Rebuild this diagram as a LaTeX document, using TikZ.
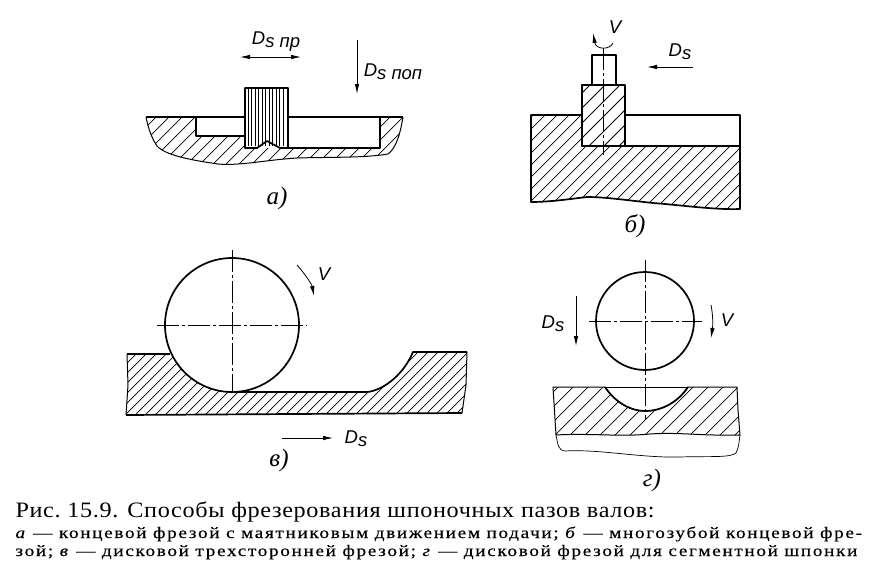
\documentclass[tikz,border=0pt]{standalone}
\usepackage{fontspec}
\setmainfont{Liberation Serif}
\newfontfamily\drawfont{Liberation Sans}
\usetikzlibrary{calc, positioning, arrows.meta}

\newcommand{\worka}{(146,117) -- (196,117) -- (196,136) -- (245,136) -- (245,148) -- (288,148) -- (380,148) -- (380,117) -- (403,117) .. controls (400,135) and (396,148) .. (388,154) .. controls (365,158) and (330,157) .. (297,158) .. controls (265,160) and (240,166) .. (218,164) .. controls (190,160) and (165,155) .. (157,146) .. controls (151,137) and (148,127) .. (146,117) -- cycle}
\newcommand{\workb}{(531,115) -- (582,115) -- (582,146) -- (740,146) -- (740,209) .. controls (715,210) and (680,205) .. (653,203) .. controls (625,200) and (605,197) .. (587,197) .. controls (570,199) and (550,202) .. (531,202) -- cycle}
\newcommand{\workc}{(127,354) -- (170,354) -- (232,392) -- (367,392) .. controls (380,391) and (402,378) .. (413,352) -- (467,352) -- (466,385) -- (462,413) -- (126,415) -- (128,385) -- cycle}
\newcommand{\workd}{(553,387) -- (605,387) .. controls (615,402) and (630,411) .. (645,411) .. controls (662,411) and (678,402) .. (688,387) -- (737,387) -- (738,410) -- (740,435) .. controls (700,436) and (680,432) .. (650,434) .. controls (620,437) and (590,433) .. (556,435) -- cycle}

\tikzset{
  outline/.style={line width=1.7pt, line join=round},
  thinoutline/.style={line width=1pt, line join=round},
  hatchline/.style={line width=0.7pt},
  axisline/.style={line width=0.7pt, dash pattern=on 22pt off 3pt on 3pt off 3pt},
  feedarrow/.style={line width=0.8pt, -{Latex[length=10pt,width=4.5pt]}},
  drawlabel/.style={font=\drawfont\itshape\fontsize{18.5}{18}\selectfont},
  partlabel/.style={font=\itshape\fontsize{25}{25}\selectfont},
  capbig/.style={anchor=base west, font=\addfontfeatures{FakeStretch=1.1,LetterSpace=3}\fontsize{22}{22}\selectfont},
  capsmall/.style={anchor=base west, font=\addfontfeatures{FakeStretch=1.2,LetterSpace=10.5,FakeBold=0.3}\fontsize{16}{16}\selectfont}
}

\newcommand{\hatchfill}[2]{%
  \begin{scope}
    \clip #1;
    \foreach \hx in {0,#2,...,1400}
      \draw [hatchline] (\hx,0) -- ++(-700,700);
  \end{scope}}

\begin{document}
\begin{tikzpicture}[x=1pt, y=-1pt]
  \useasboundingbox (0,0) rectangle (881,568);

  \hatchfill{\worka}{13}
  \draw [outline] (146,117) -- (196,117) -- (196,136) -- (245,136);
  \draw [outline] (288,148) -- (380,148) -- (380,117) -- (403,117);
  \draw [thinoutline] (403,117) .. controls (400,135) and (396,148) .. (388,154) .. controls (365,158) and (330,157) .. (297,158) .. controls (265,160) and (240,166) .. (218,164) .. controls (190,160) and (165,155) .. (157,146) .. controls (151,137) and (148,127) .. (146,117);
  \draw [outline] (196,117) -- (245,117);
  \draw [outline] (288,117) -- (380,117);
  \draw [fill=white, outline] (245,88) -- (288,88) -- (288,148) -- (280,148) -- (267,141) -- (257,148) -- (245,148) -- cycle;
  \foreach \hx in {248,251.5,...,286}
    \draw [hatchline] (\hx,89) -- (\hx,146);
  \draw [line width=0.8pt, {Latex[length=10pt,width=4.5pt]}-{Latex[length=10pt,width=4.5pt]}] (240,57) -- (301,57);
  \draw [feedarrow] (357,40) -- (357,94);
  \node at (276,42) [drawlabel] {D\raisebox{-3pt}{s пр}};
  \node at (393,72) [drawlabel] {D\raisebox{-3pt}{s пoп}};
  \node at (277,198) [partlabel] {а)};

  \hatchfill{\workb}{12}
  \draw [outline] \workb;
  \draw [outline] (625,115) -- (740,115) -- (740,146);
  \draw [outline] (592,85) -- (592,55) -- (616,55) -- (616,85);
  \draw [fill=white, outline] (582,85) rectangle (625,146);
  \begin{scope}
    \clip (582,85) rectangle (625,146);
    \foreach \hx in {575,590,...,700}
      \draw [line width=0.8pt] (\hx,85) -- ++(-80,80);
  \end{scope}
  \draw [axisline] (603,48) -- (603,155);
  \draw [feedarrow] (613,43) .. controls (610,50) and (596,50) .. (593,33);
  \draw [feedarrow] (693,67) -- (647,67);
  \node at (615,27) [drawlabel] {V};
  \node at (680,52) [drawlabel] {D\raisebox{-3pt}{s}};
  \node at (635,226) [partlabel] {б)};

  \hatchfill{\workc}{10}
  \draw [outline] (127,354) -- (170,354);
  \draw [outline] (232,392) -- (367,392) .. controls (380,391) and (402,378) .. (413,352) -- (467,352);
  \draw [thinoutline] (467,352) -- (466,385) -- (462,413);
  \draw [outline] (462,413) -- (126,415);
  \draw [thinoutline] (126,415) -- (128,385) -- (127,354);
  \draw [fill=white, outline] (232,325) circle [radius=67];
  \draw [axisline] (157,325) -- (307,325);
  \draw [axisline] (232,250) -- (232,392);
  \draw [feedarrow] (297,265) .. controls (306,275) and (312,285) .. (314,296);
  \draw [feedarrow] (282,438) -- (333,438);
  \node at (324,274) [drawlabel] {V};
  \node at (356,439) [drawlabel] {D\raisebox{-3pt}{s}};
  \node at (279,460) [partlabel] {в)};

  \hatchfill{\workd}{15}
  \draw [thinoutline] \workd;
  \draw [outline] (605,387) .. controls (615,402) and (630,411) .. (645,411) .. controls (662,411) and (678,402) .. (688,387);
  \draw [thinoutline] (605,387) -- (688,387);
  \draw [line width=0.7pt] (556,435) .. controls (558,445) and (558,450) .. (565,451) .. controls (600,449) and (640,458) .. (680,457) .. controls (710,456) and (730,458) .. (736,453) .. controls (739,447) and (739,442) .. (740,435);
  \draw [outline] (645,321) circle [radius=49];
  \draw [axisline] (589,321) -- (702,321);
  \draw [axisline] (645,260) -- (645,420);
  \draw [feedarrow] (576,296) -- (576,346);
  \draw [feedarrow] (711,305) .. controls (713,315) and (713,325) .. (711,338);
  \node at (553,324) [drawlabel] {D\raisebox{-3pt}{s}};
  \node at (727,320) [drawlabel] {V};
  \node at (652,480) [partlabel] {г)};

  \node (capline) at (12,517) [capbig] {Рис.\ 15.9. Способы фрезерования шпоночных пазов валов:};
  \node (capa) at (12,538) [capsmall] {\textit{а} --- концевой фрезой с маятниковым движением подачи; \textit{б} --- многозубой концевой фре-};
  \node (capb) at (12,556) [capsmall] {зой; \textit{в} --- дисковой трехсторонней фрезой; \textit{г} --- дисковой фрезой для сегментной шпонки};
\end{tikzpicture}
\end{document}
